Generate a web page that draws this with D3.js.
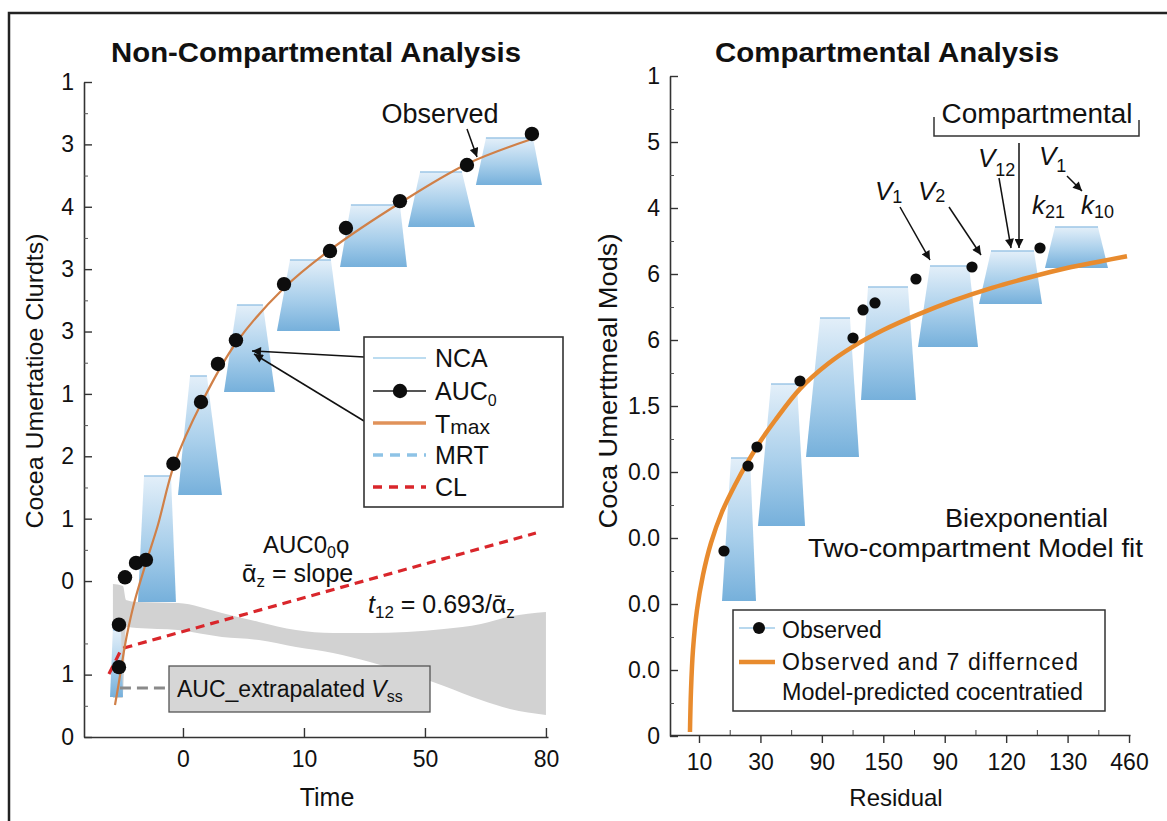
<!DOCTYPE html>
<html>
<head>
<meta charset="utf-8">
<script src="https://cdn.jsdelivr.net/npm/d3@7"></script>
<style>
  body { margin: 0; background: #fff; }
  svg { display: block; font-family: "Liberation Sans", Arial, Helvetica, sans-serif; }
</style>
</head>
<body>
<div id="chart"></div>
<script>
// ---------- data ----------
// left panel: non-compartmental
const leftYTicks = [0, 1, 2.5, 3.5, 4.5, 5.5, 6.5, 7.5, 8.5, 9.5, 10.5];
const leftYLabels = ["0", "1", "0", "1", "2", "1", "3", "3", "4", "3", "1"];
const leftYMinor = [0.5, 1.5, 3, 4, 5, 6, 7, 8, 9, 10];
const leftXTicks = [0, 1, 2, 3];
const leftXLabels = ["0", "10", "50", "80"];

const ncaObsX = [-0.529, -0.529, -0.479, -0.388, -0.306, -0.079, 0.149, 0.289, 0.438, 0.835, 1.215, 1.347, 1.793, 2.347, 2.884];
const ncaObsY = [1.12, 1.80, 2.56, 2.79, 2.84, 4.38, 5.37, 5.98, 6.36, 7.26, 7.79, 8.16, 8.59, 9.17, 9.667];

const ncaFitX = [-0.562, -0.533, -0.504, -0.479, -0.455, -0.397, -0.306, -0.207, -0.074, 0.157, 0.438, 0.835, 1.215, 1.793, 2.347, 2.860];
const ncaFitY = [0.513, 0.834, 1.186, 1.475, 1.715, 2.196, 2.789, 3.399, 4.360, 5.370, 6.316, 7.198, 7.807, 8.560, 9.186, 9.570];

// trapezoids: [x0 top, x1 top, x0 bottom, x1 bottom, y top, y bottom]
const ncaBlocks = [
  [2.504, 2.893, 2.421, 2.967, 9.602, 8.849],
  [1.959, 2.306, 1.860, 2.413, 9.057, 8.176],
  [1.388, 1.793, 1.298, 1.851, 8.528, 7.535],
  [0.884, 1.223, 0.777, 1.298, 7.647, 6.509],
  [0.446, 0.661, 0.339, 0.760, 6.925, 5.531],
  [0.058, 0.198, -0.041, 0.322, 5.787, 3.879],
  [-0.322, -0.099, -0.372, -0.058, 4.184, 2.164],
  [-0.579, -0.512, -0.603, -0.496, 1.715, 0.641]
];

const bandX = [-0.579, -0.496, -0.471, -0.380, -0.041, 0.322, 0.628, 0.934, 1.240, 1.545, 1.851, 2.157, 2.463, 2.702, 3.000];
const bandUpper = [2.453, 2.421, 2.196, 2.164, 2.148, 1.988, 1.844, 1.715, 1.667, 1.667, 1.683, 1.730, 1.810, 1.930, 2.004];
const bandLower = [0.625, 0.625, 1.763, 1.747, 1.715, 1.603, 1.555, 1.443, 1.347, 1.202, 1.026, 0.818, 0.593, 0.449, 0.353];

const clX = [-0.612, -0.512, -0.488, 2.917];
const clY = [1.010, 1.395, 1.427, 3.270];

const extrapX = [-0.521, -0.124];
const extrapY = [0.786, 0.786];

// right panel: compartmental
const rightYTicks = [0, 1, 2, 3, 4, 5, 6, 7, 8, 9, 10];
const rightYLabels = ["0", "0.0", "0.0", "0.0", "0.0", "1.5", "6", "6", "4", "5", "1"];
const rightYMinor = [0.5, 1.5, 2.5, 3.5, 4.5, 5.5, 6.5, 7.5, 8.5, 9.5];
const rightXTicks = [0, 1, 2, 3, 4, 5, 6, 7];
const rightXLabels = ["10", "30", "90", "150", "90", "120", "130", "460"];
const rightXMinor = [0.5, 1.5, 2.5, 3.5, 4.5, 5.5, 6.5];

const cmpObsX = [5.551, 4.444, 3.532, 2.865, 2.670, 2.507, 1.644, 0.944, 0.798, 0.407];
const cmpObsY = [7.394, 7.106, 6.924, 6.561, 6.455, 6.030, 5.379, 4.379, 4.091, 2.803];

const cmpFitX = [-0.147, -0.130, -0.098, -0.033, 0.065, 0.195, 0.374, 0.586, 0.798, 1.010, 1.237, 1.644, 2.100, 2.507, 3.000, 3.549, 4.151, 4.770, 5.388, 5.991, 6.528, 6.967];
const cmpFitY = [0.061, 0.697, 1.303, 1.909, 2.439, 2.924, 3.394, 3.803, 4.160, 4.480, 4.780, 5.260, 5.640, 5.900, 6.150, 6.380, 6.600, 6.790, 6.950, 7.090, 7.190, 7.270];

const cmpBlocks = [
  [5.795, 6.495, 5.632, 6.658, 7.712, 7.091],
  [4.753, 5.453, 4.558, 5.584, 7.348, 6.545],
  [3.760, 4.395, 3.565, 4.542, 7.121, 5.894],
  [2.751, 3.402, 2.637, 3.532, 6.803, 5.091],
  [1.970, 2.458, 1.742, 2.605, 6.333, 4.227],
  [1.172, 1.595, 0.960, 1.726, 5.333, 3.182],
  [0.521, 0.830, 0.374, 0.928, 4.212, 2.045]
];

// ---------- drawing ----------
const W = 1167, H = 821;
const FONT = '"Liberation Sans", Arial, Helvetica, sans-serif';

const svg = d3.select("#chart").append("svg")
  .attr("width", W).attr("height", H);

const defs = svg.append("defs");
const grad = defs.append("linearGradient")
  .attr("id", "blockGrad").attr("x1", 0).attr("y1", 0).attr("x2", 0).attr("y2", 1);
grad.append("stop").attr("offset", "0%").attr("stop-color", "#e3eff9");
grad.append("stop").attr("offset", "55%").attr("stop-color", "#a9cfeb");
grad.append("stop").attr("offset", "100%").attr("stop-color", "#76b0db");

defs.append("marker")
  .attr("id", "arr").attr("viewBox", "0 0 10 10")
  .attr("refX", 10).attr("refY", 5)
  .attr("markerWidth", 11).attr("markerHeight", 9)
  .attr("markerUnits", "userSpaceOnUse")
  .attr("orient", "auto")
  .append("path").attr("d", "M0,0 L10,5 L0,10 Z").attr("fill", "#111");

// outer frame
svg.append("rect")
  .attr("x", 9).attr("y", 13).attr("width", 1200).attr("height", 900)
  .attr("fill", "none").attr("stroke", "#222").attr("stroke-width", 2.5);

const xL = d3.scaleLinear().domain([-0.818, 3.017]).range([84, 548]);
const yL = d3.scaleLinear().domain([0, 10.5]).range([737, 82]);
const xR = d3.scaleLinear().domain([-0.472, 7.016]).range([670, 1130]);
const yR = d3.scaleLinear().domain([0, 10]).range([736, 76]);

function trapPath(b, x, y) {
  return `M${x(b[0])},${y(b[4])}L${x(b[1])},${y(b[4])}L${x(b[3])},${y(b[5])}L${x(b[2])},${y(b[5])}Z`;
}

function drawBlocks(g, blocks, x, y) {
  g.selectAll("path.block").data(blocks).enter().append("path")
    .attr("class", "block")
    .attr("d", d => trapPath(d, x, y))
    .attr("fill", "url(#blockGrad)");
  g.selectAll("line.blockTop").data(blocks).enter().append("line")
    .attr("class", "blockTop")
    .attr("x1", d => x(d[0])).attr("x2", d => x(d[1]))
    .attr("y1", d => y(d[4])).attr("y2", d => y(d[4]))
    .attr("stroke", "#9cc6e6").attr("stroke-width", 1.5);
}

function styleAxis(g, size) {
  g.attr("font-family", FONT).attr("font-size", size);
  g.select(".domain").attr("stroke", "#333").attr("stroke-width", 1.6);
  g.selectAll(".tick line").attr("stroke", "#333").attr("stroke-width", 1.4);
  g.selectAll(".tick text").attr("fill", "#111");
}

function arrow(x1, y1, x2, y2) {
  svg.append("line")
    .attr("x1", x1).attr("y1", y1).attr("x2", x2).attr("y2", y2)
    .attr("stroke", "#111").attr("stroke-width", 1.5)
    .attr("marker-end", "url(#arr)");
}

// ===== LEFT PANEL =====
const gl = svg.append("g");

// grey confidence band
const band = bandX.map((d, i) => ({x: d, hi: bandUpper[i], lo: bandLower[i]}));
gl.append("path").datum(band)
  .attr("d", d3.area().x(d => xL(d.x)).y0(d => yL(d.lo)).y1(d => yL(d.hi)).curve(d3.curveMonotoneX))
  .attr("fill", "#d2d2d2");

drawBlocks(gl, ncaBlocks, xL, yL);

// CL dashed line
gl.append("path").datum(clX.map((d, i) => [d, clY[i]]))
  .attr("d", d3.line().x(d => xL(d[0])).y(d => yL(d[1])))
  .attr("fill", "none").attr("stroke", "#d9262b").attr("stroke-width", 3.2)
  .attr("stroke-dasharray", "9,6");

// extrapolation grey dash
gl.append("path").datum(extrapX.map((d, i) => [d, extrapY[i]]))
  .attr("d", d3.line().x(d => xL(d[0])).y(d => yL(d[1])))
  .attr("fill", "none").attr("stroke", "#8a8a8a").attr("stroke-width", 3)
  .attr("stroke-dasharray", "11,6");

// fitted curve
gl.append("path").datum(ncaFitX.map((d, i) => [d, ncaFitY[i]]))
  .attr("d", d3.line().x(d => xL(d[0])).y(d => yL(d[1])).curve(d3.curveCatmullRom))
  .attr("fill", "none").attr("stroke", "#d08048").attr("stroke-width", 2.2);

gl.selectAll("circle.obs").data(ncaObsX.map((d, i) => [d, ncaObsY[i]])).enter()
  .append("circle").attr("class", "obs")
  .attr("cx", d => xL(d[0])).attr("cy", d => yL(d[1])).attr("r", 7.2)
  .attr("fill", "#0d0d0d");

// axes
const lyAxis = gl.append("g").attr("transform", "translate(84,0)")
  .call(d3.axisLeft(yL).tickValues(leftYTicks).tickFormat((d, i) => leftYLabels[i])
    .tickSize(-8).tickSizeOuter(0).tickPadding(10));
styleAxis(lyAxis, 23);
const lyMinor = gl.append("g").attr("transform", "translate(84,0)")
  .call(d3.axisLeft(yL).tickValues(leftYMinor).tickFormat("").tickSize(-4).tickSizeOuter(0));
lyMinor.select(".domain").remove();
lyMinor.selectAll(".tick line").attr("stroke", "#555");

const lxAxis = gl.append("g").attr("transform", "translate(0,737)")
  .call(d3.axisBottom(xL).tickValues(leftXTicks).tickFormat((d, i) => leftXLabels[i])
    .tickSize(-9).tickSizeOuter(0).tickPadding(14));
styleAxis(lxAxis, 23);

// titles
svg.append("text").attr("x", 316).attr("y", 62).attr("text-anchor", "middle")
  .attr("font-size", 27).attr("font-weight", "bold").attr("fill", "#111")
  .attr("textLength", 410).attr("lengthAdjust", "spacingAndGlyphs")
  .text("Non-Compartmental Analysis");
svg.append("text").attr("x", 327).attr("y", 806).attr("text-anchor", "middle")
  .attr("font-size", 25).attr("fill", "#111").text("Time");
svg.append("text").attr("transform", "translate(43,381) rotate(-90)").attr("text-anchor", "middle")
  .attr("font-size", 24).attr("fill", "#111")
  .attr("textLength", 295).attr("lengthAdjust", "spacingAndGlyphs")
  .text("Cocea Umertatioe Clurdts)");

// "Observed" annotation
svg.append("text").attr("x", 440).attr("y", 123).attr("text-anchor", "middle")
  .attr("font-size", 27).attr("fill", "#111").text("Observed");
arrow(467, 129, 477, 157);

// legend arrows
arrow(364, 357, 252, 351);
arrow(364, 421, 254, 354);

// left legend
const lg = svg.append("g");
lg.append("rect").attr("x", 364).attr("y", 337).attr("width", 199).attr("height", 170)
  .attr("fill", "#fff").attr("stroke", "#333").attr("stroke-width", 1.6);
lg.append("line").attr("x1", 373).attr("x2", 426).attr("y1", 358).attr("y2", 358)
  .attr("stroke", "#bcdcf0").attr("stroke-width", 2);
lg.append("line").attr("x1", 373).attr("x2", 426).attr("y1", 391).attr("y2", 391)
  .attr("stroke", "#555").attr("stroke-width", 2);
lg.append("circle").attr("cx", 400).attr("cy", 391).attr("r", 7.2).attr("fill", "#0d0d0d");
lg.append("line").attr("x1", 373).attr("x2", 426).attr("y1", 423).attr("y2", 423)
  .attr("stroke", "#e0925a").attr("stroke-width", 3.5);
lg.append("line").attr("x1", 373).attr("x2", 426).attr("y1", 455).attr("y2", 455)
  .attr("stroke", "#8ec3e6").attr("stroke-width", 3.5).attr("stroke-dasharray", "10,7");
lg.append("line").attr("x1", 373).attr("x2", 426).attr("y1", 487).attr("y2", 487)
  .attr("stroke", "#d9262b").attr("stroke-width", 3.5).attr("stroke-dasharray", "9,7");

lg.append("text").attr("x", 435).attr("y", 367).attr("font-size", 25).attr("fill", "#111").text("NCA");
const auc = lg.append("text").attr("x", 435).attr("y", 400).attr("font-size", 25).attr("fill", "#111");
auc.append("tspan").text("AUC");
auc.append("tspan").attr("font-size", 16).attr("dy", 6).text("0");
const tmax = lg.append("text").attr("x", 435).attr("y", 433).attr("font-size", 25).attr("fill", "#111");
tmax.append("tspan").text("T");
tmax.append("tspan").attr("font-size", 21).attr("dy", 1).text("max");
lg.append("text").attr("x", 435).attr("y", 464).attr("font-size", 25).attr("fill", "#111").text("MRT");
lg.append("text").attr("x", 435).attr("y", 496).attr("font-size", 25).attr("fill", "#111").text("CL");

// left annotations
const a1 = svg.append("text").attr("x", 263).attr("y", 553).attr("font-size", 24).attr("fill", "#111");
a1.append("tspan").text("AUC0");
a1.append("tspan").attr("font-size", 16).attr("dy", 5).text("0");
a1.append("tspan").attr("dy", -5).text("ϙ");

const a2 = svg.append("text").attr("x", 242).attr("y", 582).attr("font-size", 25).attr("fill", "#111");
a2.append("tspan").text("ᾱ");
a2.append("tspan").attr("font-size", 17).attr("dy", 5).text("z");
a2.append("tspan").attr("dy", -5).text(" = slope");

const a3 = svg.append("text").attr("x", 368).attr("y", 613).attr("font-size", 25).attr("fill", "#111");
a3.append("tspan").attr("font-style", "italic").text("t");
a3.append("tspan").attr("font-size", 17).attr("dy", 5).text("12");
a3.append("tspan").attr("dy", -5).text(" = 0.693/ᾱ");
a3.append("tspan").attr("font-size", 17).attr("dy", 5).text("z");

// extrapolated label box
svg.append("rect").attr("x", 169).attr("y", 666).attr("width", 261).attr("height", 46)
  .attr("fill", "#d6d6d6").attr("stroke", "#555").attr("stroke-width", 1.3);
const ex = svg.append("text").attr("x", 177).attr("y", 697).attr("font-size", 23).attr("fill", "#111");
ex.append("tspan").text("AUC_extrapalated ");
ex.append("tspan").attr("font-style", "italic").text("V");
ex.append("tspan").attr("font-size", 16).attr("dy", 5).text("ss");

// ===== RIGHT PANEL =====
const gr = svg.append("g");
drawBlocks(gr, cmpBlocks, xR, yR);

gr.append("path").datum(cmpFitX.map((d, i) => [d, cmpFitY[i]]))
  .attr("d", d3.line().x(d => xR(d[0])).y(d => yR(d[1])).curve(d3.curveCatmullRom))
  .attr("fill", "none").attr("stroke", "#e88b2e").attr("stroke-width", 4.5);

gr.selectAll("circle.obs").data(cmpObsX.map((d, i) => [d, cmpObsY[i]])).enter()
  .append("circle").attr("class", "obs")
  .attr("cx", d => xR(d[0])).attr("cy", d => yR(d[1])).attr("r", 5.6)
  .attr("fill", "#0d0d0d");

const ryAxis = gr.append("g").attr("transform", "translate(670,0)")
  .call(d3.axisLeft(yR).tickValues(rightYTicks).tickFormat((d, i) => rightYLabels[i])
    .tickSize(-8).tickSizeOuter(0).tickPadding(10));
styleAxis(ryAxis, 23);
const ryMinor = gr.append("g").attr("transform", "translate(670,0)")
  .call(d3.axisLeft(yR).tickValues(rightYMinor).tickFormat("").tickSize(-4).tickSizeOuter(0));
ryMinor.select(".domain").remove();
ryMinor.selectAll(".tick line").attr("stroke", "#555");

const rxAxis = gr.append("g").attr("transform", "translate(0,735)")
  .call(d3.axisBottom(xR).tickValues(rightXTicks).tickFormat((d, i) => rightXLabels[i])
    .tickSize(8).tickSizeOuter(0).tickPadding(11));
styleAxis(rxAxis, 23);
const rxMinor = gr.append("g").attr("transform", "translate(0,735)")
  .call(d3.axisBottom(xR).tickValues(rightXMinor).tickFormat("").tickSize(-5).tickSizeOuter(0));
rxMinor.select(".domain").remove();
rxMinor.selectAll(".tick line").attr("stroke", "#444");

svg.append("text").attr("x", 887).attr("y", 62).attr("text-anchor", "middle")
  .attr("font-size", 27).attr("font-weight", "bold").attr("fill", "#111")
  .attr("textLength", 344).attr("lengthAdjust", "spacingAndGlyphs")
  .text("Compartmental Analysis");
svg.append("text").attr("x", 896).attr("y", 806).attr("text-anchor", "middle")
  .attr("font-size", 24).attr("fill", "#111").text("Residual");
svg.append("text").attr("transform", "translate(617,381) rotate(-90)").attr("text-anchor", "middle")
  .attr("font-size", 25).attr("fill", "#111")
  .attr("textLength", 295).attr("lengthAdjust", "spacingAndGlyphs")
  .text("Coca Umerttmeal Mods)");

// bracket + "Compartmental"
svg.append("path").attr("d", "M934,117V136H1139V120")
  .attr("fill", "none").attr("stroke", "#333").attr("stroke-width", 1.5);
svg.append("text").attr("x", 1037).attr("y", 123).attr("text-anchor", "middle")
  .attr("font-size", 27).attr("fill", "#111")
  .attr("textLength", 191).attr("lengthAdjust", "spacingAndGlyphs")
  .text("Compartmental");

function symLabel(x, y, main, sub, dy, italic) {
  const t = svg.append("text").attr("x", x).attr("y", y).attr("font-size", 26).attr("fill", "#111");
  t.append("tspan").attr("font-style", italic ? "italic" : null).text(main);
  t.append("tspan").attr("font-size", 18).attr("dy", dy).text(sub);
}
symLabel(875, 200, "V", "1", 3, true);
symLabel(918, 200, "V", "2", 2, true);
symLabel(978, 167, "V", "12", 9, true);
symLabel(1039, 165, "V", "1", 7, true);
symLabel(1032, 214, "k", "21", 4, true);
symLabel(1081, 214, "k", "10", 4, true);

arrow(900, 207, 930, 260);
arrow(949, 207, 981, 255);
arrow(999, 178, 1011, 248);
arrow(1019, 143, 1019, 248);
arrow(1067, 176, 1082, 191);

// model-fit caption
svg.append("text").attr("x", 945).attr("y", 527).attr("font-size", 26).attr("fill", "#111")
  .attr("textLength", 163).attr("lengthAdjust", "spacingAndGlyphs").text("Biexponential");
svg.append("text").attr("x", 808).attr("y", 557).attr("font-size", 26).attr("fill", "#111")
  .attr("textLength", 335).attr("lengthAdjust", "spacingAndGlyphs").text("Two-compartment Model fit");

// right legend
const rg = svg.append("g");
rg.append("rect").attr("x", 733).attr("y", 610).attr("width", 372).attr("height", 101)
  .attr("fill", "#fff").attr("stroke", "#333").attr("stroke-width", 1.5);
rg.append("line").attr("x1", 739).attr("x2", 775).attr("y1", 628).attr("y2", 628)
  .attr("stroke", "#b8d8ee").attr("stroke-width", 1.8);
rg.append("circle").attr("cx", 759).attr("cy", 628).attr("r", 6).attr("fill", "#0d0d0d");
rg.append("line").attr("x1", 739).attr("x2", 775).attr("y1", 662).attr("y2", 662)
  .attr("stroke", "#e88b2e").attr("stroke-width", 4.5);
rg.append("text").attr("x", 782).attr("y", 638).attr("font-size", 23).attr("fill", "#111").text("Observed");
rg.append("text").attr("x", 782).attr("y", 670).attr("font-size", 23).attr("fill", "#111")
  .attr("textLength", 296).attr("lengthAdjust", "spacing").text("Observed and 7 differnced");
rg.append("text").attr("x", 782).attr("y", 700).attr("font-size", 23).attr("fill", "#111")
  .attr("textLength", 301).attr("lengthAdjust", "spacingAndGlyphs").text("Model-predicted cocentratied");
</script>
</body>
</html>
